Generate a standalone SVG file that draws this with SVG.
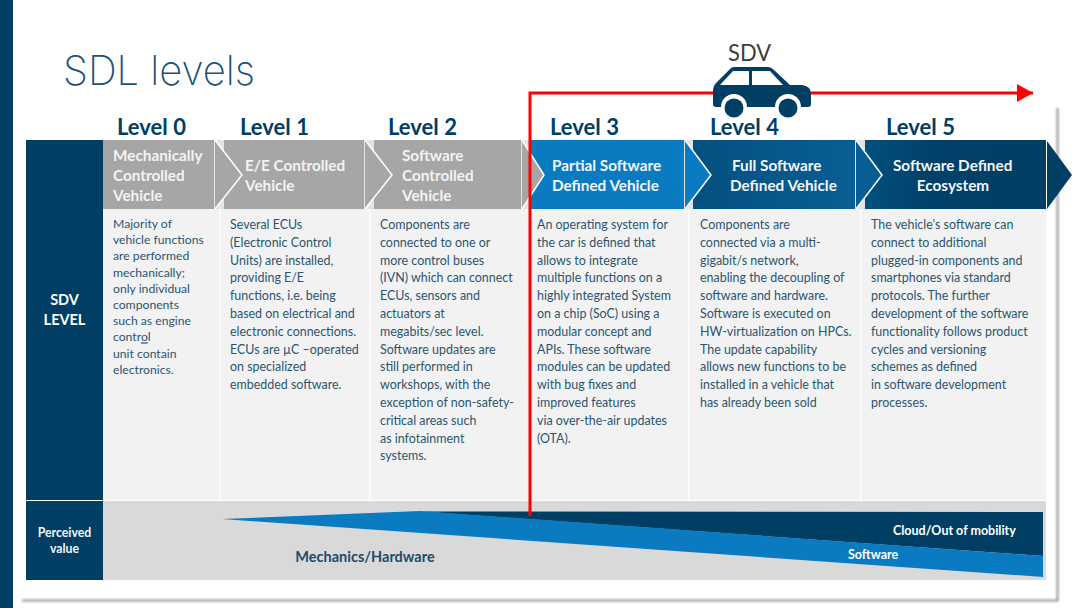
<svg xmlns="http://www.w3.org/2000/svg" width="1080" height="608" viewBox="0 0 1080 608">
<style>
text{font-family:"Lato","Liberation Sans",sans-serif}
.d{font-size:12.45px;fill:#2a5570}
.d0{font-size:12.2px}
.lv{font-size:22px;font-weight:700;fill:#003f63}
.h{font-size:15.3px;font-weight:700;fill:#f4f7fa}
.hg{fill:#f3f3f3}
.line{fill:none;stroke:#fff;stroke-width:1.5}
.col{fill:#f2f2f2}
.s{font-size:12.5px;font-weight:700;fill:#fff}
</style>
<defs>
<linearGradient id="g4" x1="0" x2="1" y1="0" y2="0"><stop offset="0" stop-color="#04507f"/><stop offset="1" stop-color="#085e94"/></linearGradient>
<linearGradient id="g5" x1="0" x2="1" y1="0" y2="0"><stop offset="0" stop-color="#00507d"/><stop offset="0.35" stop-color="#00416a"/><stop offset="1" stop-color="#003f63"/></linearGradient>
<marker id="ah" markerUnits="userSpaceOnUse" markerWidth="17" markerHeight="18" refX="16" refY="9" orient="auto"><path d="M0,0L16,9L0,18Z" fill="#fe0000"/></marker>
<filter id="b" x="-5%" y="-5%" width="110%" height="110%"><feGaussianBlur stdDeviation="1"/></filter>
</defs>
<rect width="1080" height="608" fill="#fff"/>
<rect x="0" y="0" width="13" height="608" fill="#003f63"/>
<path d="M22,600.5H1057.5V108" fill="none" stroke="#a6a6a6" stroke-width="2.5" filter="url(#b)"/>
<text id="title" x="63" y="85" font-size="41" font-weight="200" textLength="192" lengthAdjust="spacingAndGlyphs" style="font-family:Inter,'Liberation Sans',sans-serif" fill="#1d5178">SDL levels</text>

<g id="sdv-label"><text x="728" y="61" font-size="24" fill="#3d3d3d" textLength="43" lengthAdjust="spacingAndGlyphs">SDV</text></g>

<g id="side">
<rect x="26" y="140" width="77" height="360" fill="#003f63"/>
<rect x="26" y="501" width="77" height="79" fill="#003f63"/>
<text x="64.5" y="305" font-size="14.5" font-weight="700" fill="#fff" text-anchor="middle">SDV</text>
<text x="64.5" y="325" font-size="14.5" font-weight="700" fill="#fff" text-anchor="middle">LEVEL</text>
<text x="64.5" y="537" font-size="12.3" font-weight="700" fill="#f4f4f4" text-anchor="middle">Perceived</text>
<text x="64.5" y="553" font-size="12.3" font-weight="700" fill="#f4f4f4" text-anchor="middle">value</text>
</g>

<g id="columns">
<rect class="col" x="103" y="209" width="116" height="291"/>
<rect class="col" x="220.500" y="209" width="148.500" height="291"/>
<rect class="col" x="370.500" y="209" width="159.500" height="291"/>
<rect class="col" x="530" y="209" width="158" height="291"/>
<rect class="col" x="689.500" y="209" width="170.500" height="291"/>
<rect class="col" x="861.500" y="209" width="184.500" height="291"/>
</g>

<rect x="103" y="140" width="943" height="69" fill="#e3e3e3"/>

<g id="level-0">
<text class="lv" x="117" y="135">Level 0</text>
<rect x="103" y="140" width="111" height="69" fill="#a6a6a6"/>
<text class="h hg" x="113" y="161">Mechanically</text><text class="h hg" x="113" y="181">Controlled</text><text class="h hg" x="113" y="201">Vehicle</text>
<text class="d d0"><tspan x="113" y="228">Majority of</tspan><tspan x="113" y="244.200">vehicle functions</tspan><tspan x="113" y="260.400">are performed</tspan><tspan x="113" y="276.600">mechanically;</tspan><tspan x="113" y="292.800">only individual</tspan><tspan x="113" y="309">components</tspan><tspan x="113" y="325.200">such as engine</tspan><tspan x="113" y="341.400">contr<tspan text-decoration="underline">o</tspan>l</tspan><tspan x="113" y="357.600">unit contain</tspan><tspan x="113" y="373.800">electronics.</tspan></text>
</g>

<g id="level-1">
<text class="lv" x="240" y="135">Level 1</text>
<rect x="224" y="140" width="140" height="69" fill="#a6a6a6"/>
<path d="M215,140L242,175L215,209Z" fill="#a6a6a6"/><path class="line" d="M215,140L242,175L215,209"/>
<text class="h hg" x="245" y="171">E/E Controlled</text><text class="h hg" x="245" y="191">Vehicle</text>
<text class="d"><tspan x="230" y="229">Several ECUs</tspan><tspan x="230" y="246.800">(Electronic Control</tspan><tspan x="230" y="264.600">Units) are installed,</tspan><tspan x="230" y="282.400">providing E/E</tspan><tspan x="230" y="300.200">functions, i.e. being</tspan><tspan x="230" y="318">based on electrical and</tspan><tspan x="230" y="335.800">electronic connections.</tspan><tspan x="230" y="353.600">ECUs are µC –operated</tspan><tspan x="230" y="371.400">on specialized</tspan><tspan x="230" y="389.200">embedded software.</tspan></text>
</g>

<g id="level-2">
<text class="lv" x="388" y="135">Level 2</text>
<rect x="374" y="140" width="147" height="69" fill="#a6a6a6"/>
<path d="M365,140L392,175L365,209Z" fill="#a6a6a6"/><path class="line" d="M365,140L392,175L365,209"/>
<text class="h hg" x="402" y="161">Software</text><text class="h hg" x="402" y="181">Controlled</text><text class="h hg" x="402" y="201">Vehicle</text>
<text class="d"><tspan x="380" y="229">Components are</tspan><tspan x="380" y="246.800">connected to one or</tspan><tspan x="380" y="264.600">more control buses</tspan><tspan x="380" y="282.400">(IVN) which can connect</tspan><tspan x="380" y="300.200">ECUs, sensors and</tspan><tspan x="380" y="318">actuators at</tspan><tspan x="380" y="335.800">megabits/sec level.</tspan><tspan x="380" y="353.600">Software updates are</tspan><tspan x="380" y="371.400">still performed in</tspan><tspan x="380" y="389.200">workshops, with the</tspan><tspan x="380" y="407">exception of non-safety-</tspan><tspan x="380" y="424.800">critical areas such</tspan><tspan x="380" y="442.600">as infotainment</tspan><tspan x="380" y="460.400">systems.</tspan></text>
</g>

<g id="level-3">
<text class="lv" x="550" y="135">Level 3</text>
<rect x="530" y="140" width="154" height="69" fill="#0a7bc1"/>
<path d="M522,140L544,175L522,209Z" fill="#a6a6a6"/><path class="line" d="M522,140L544,175L522,209"/>
<text class="h" x="552" y="171">Partial Software</text><text class="h" x="552" y="191">Defined Vehicle</text>
<text class="d"><tspan x="537" y="229">An operating system for</tspan><tspan x="537" y="246.800">the car is defined that</tspan><tspan x="537" y="264.600">allows to integrate</tspan><tspan x="537" y="282.400">multiple functions on a</tspan><tspan x="537" y="300.200">highly integrated System</tspan><tspan x="537" y="318">on a chip (SoC) using a</tspan><tspan x="537" y="335.800">modular concept and</tspan><tspan x="537" y="353.600">APIs. These software</tspan><tspan x="537" y="371.400">modules can be updated</tspan><tspan x="537" y="389.200">with bug fixes and</tspan><tspan x="537" y="407">improved features</tspan><tspan x="537" y="424.800">via over-the-air updates</tspan><tspan x="537" y="442.600">(OTA).</tspan></text>
</g>

<g id="level-4">
<text class="lv" x="710" y="135">Level 4</text>
<rect x="693" y="140" width="162" height="69" fill="url(#g4)"/>
<path d="M685,140L711,175L685,209Z" fill="#0a7bc1"/><path class="line" d="M685,140L711,175L685,209"/>
<text class="h" x="732" y="171">Full Software</text><text class="h" x="730" y="191">Defined Vehicle</text>
<text class="d"><tspan x="700" y="229">Components are</tspan><tspan x="700" y="246.800">connected via a multi-</tspan><tspan x="700" y="264.600">gigabit/s network,</tspan><tspan x="700" y="282.400">enabling the decoupling of</tspan><tspan x="700" y="300.200">software and hardware.</tspan><tspan x="700" y="318">Software is executed on</tspan><tspan x="700" y="335.800">HW-virtualization on HPCs.</tspan><tspan x="700" y="353.600">The update capability</tspan><tspan x="700" y="371.400">allows new functions to be</tspan><tspan x="700" y="389.200">installed in a vehicle that</tspan><tspan x="700" y="407">has already been sold</tspan></text>
</g>

<g id="level-5">
<text class="lv" x="886" y="135">Level 5</text>
<rect x="865" y="140" width="181" height="69" fill="url(#g5)"/>
<path d="M856,140L882,175L856,209Z" fill="#085e94"/><path class="line" d="M856,140L882,175L856,209"/>
<path d="M1047,141L1072,175L1047,209Z" fill="#003f63"/>
<text class="h" x="893" y="171">Software Defined</text><text class="h" x="953" y="191" text-anchor="middle">Ecosystem</text>
<text class="d"><tspan x="871" y="229">The vehicle's software can</tspan><tspan x="871" y="246.800">connect to additional</tspan><tspan x="871" y="264.600">plugged-in components and</tspan><tspan x="871" y="282.400">smartphones via standard</tspan><tspan x="871" y="300.200">protocols. The further</tspan><tspan x="871" y="318">development of the software</tspan><tspan x="871" y="335.800">functionality follows product</tspan><tspan x="871" y="353.600">cycles and versioning</tspan><tspan x="871" y="371.400">schemes as defined</tspan><tspan x="871" y="389.200">in software development</tspan><tspan x="871" y="407">processes.</tspan></text>
</g>

<g id="perceived-value">
<rect x="103" y="501" width="943" height="79" fill="#d9d9d9"/>
<path d="M420,511.500L1043,512V556Z" fill="#003f63"/>
<path d="M222,519L420,511L1043,556V577Z" fill="#0a7bc1"/>
<text x="365" y="562" font-size="14.500" font-weight="700" fill="#1d4c6b" text-anchor="middle">Mechanics/Hardware</text>
<text class="s" x="893" y="535">Cloud/Out of mobility</text>
<text class="s" x="848" y="559">Software</text>
</g>

<g id="connectors">
<path d="M530,516V93H1033" fill="none" stroke="#fe0000" stroke-width="3" marker-end="url(#ah)"/>
</g>

<g id="car" fill="#003f63">
<path fill-rule="evenodd" d="M734,67H768Q771,67 774,70L790,85H802Q811,86 811,94V104Q811,107 808,107H716Q713,107 713,104V90Q713,86 716,83L729,70Q731,67 734,67ZM733,71L720,85H749V71ZM752,71V85H783L770,71Z"/>
<circle cx="734" cy="107" r="13" fill="#fff"/><circle cx="788" cy="107" r="13" fill="#fff"/>
<circle cx="734" cy="108" r="9.500"/><circle cx="788" cy="108" r="9.500"/>
</g>
</svg>
